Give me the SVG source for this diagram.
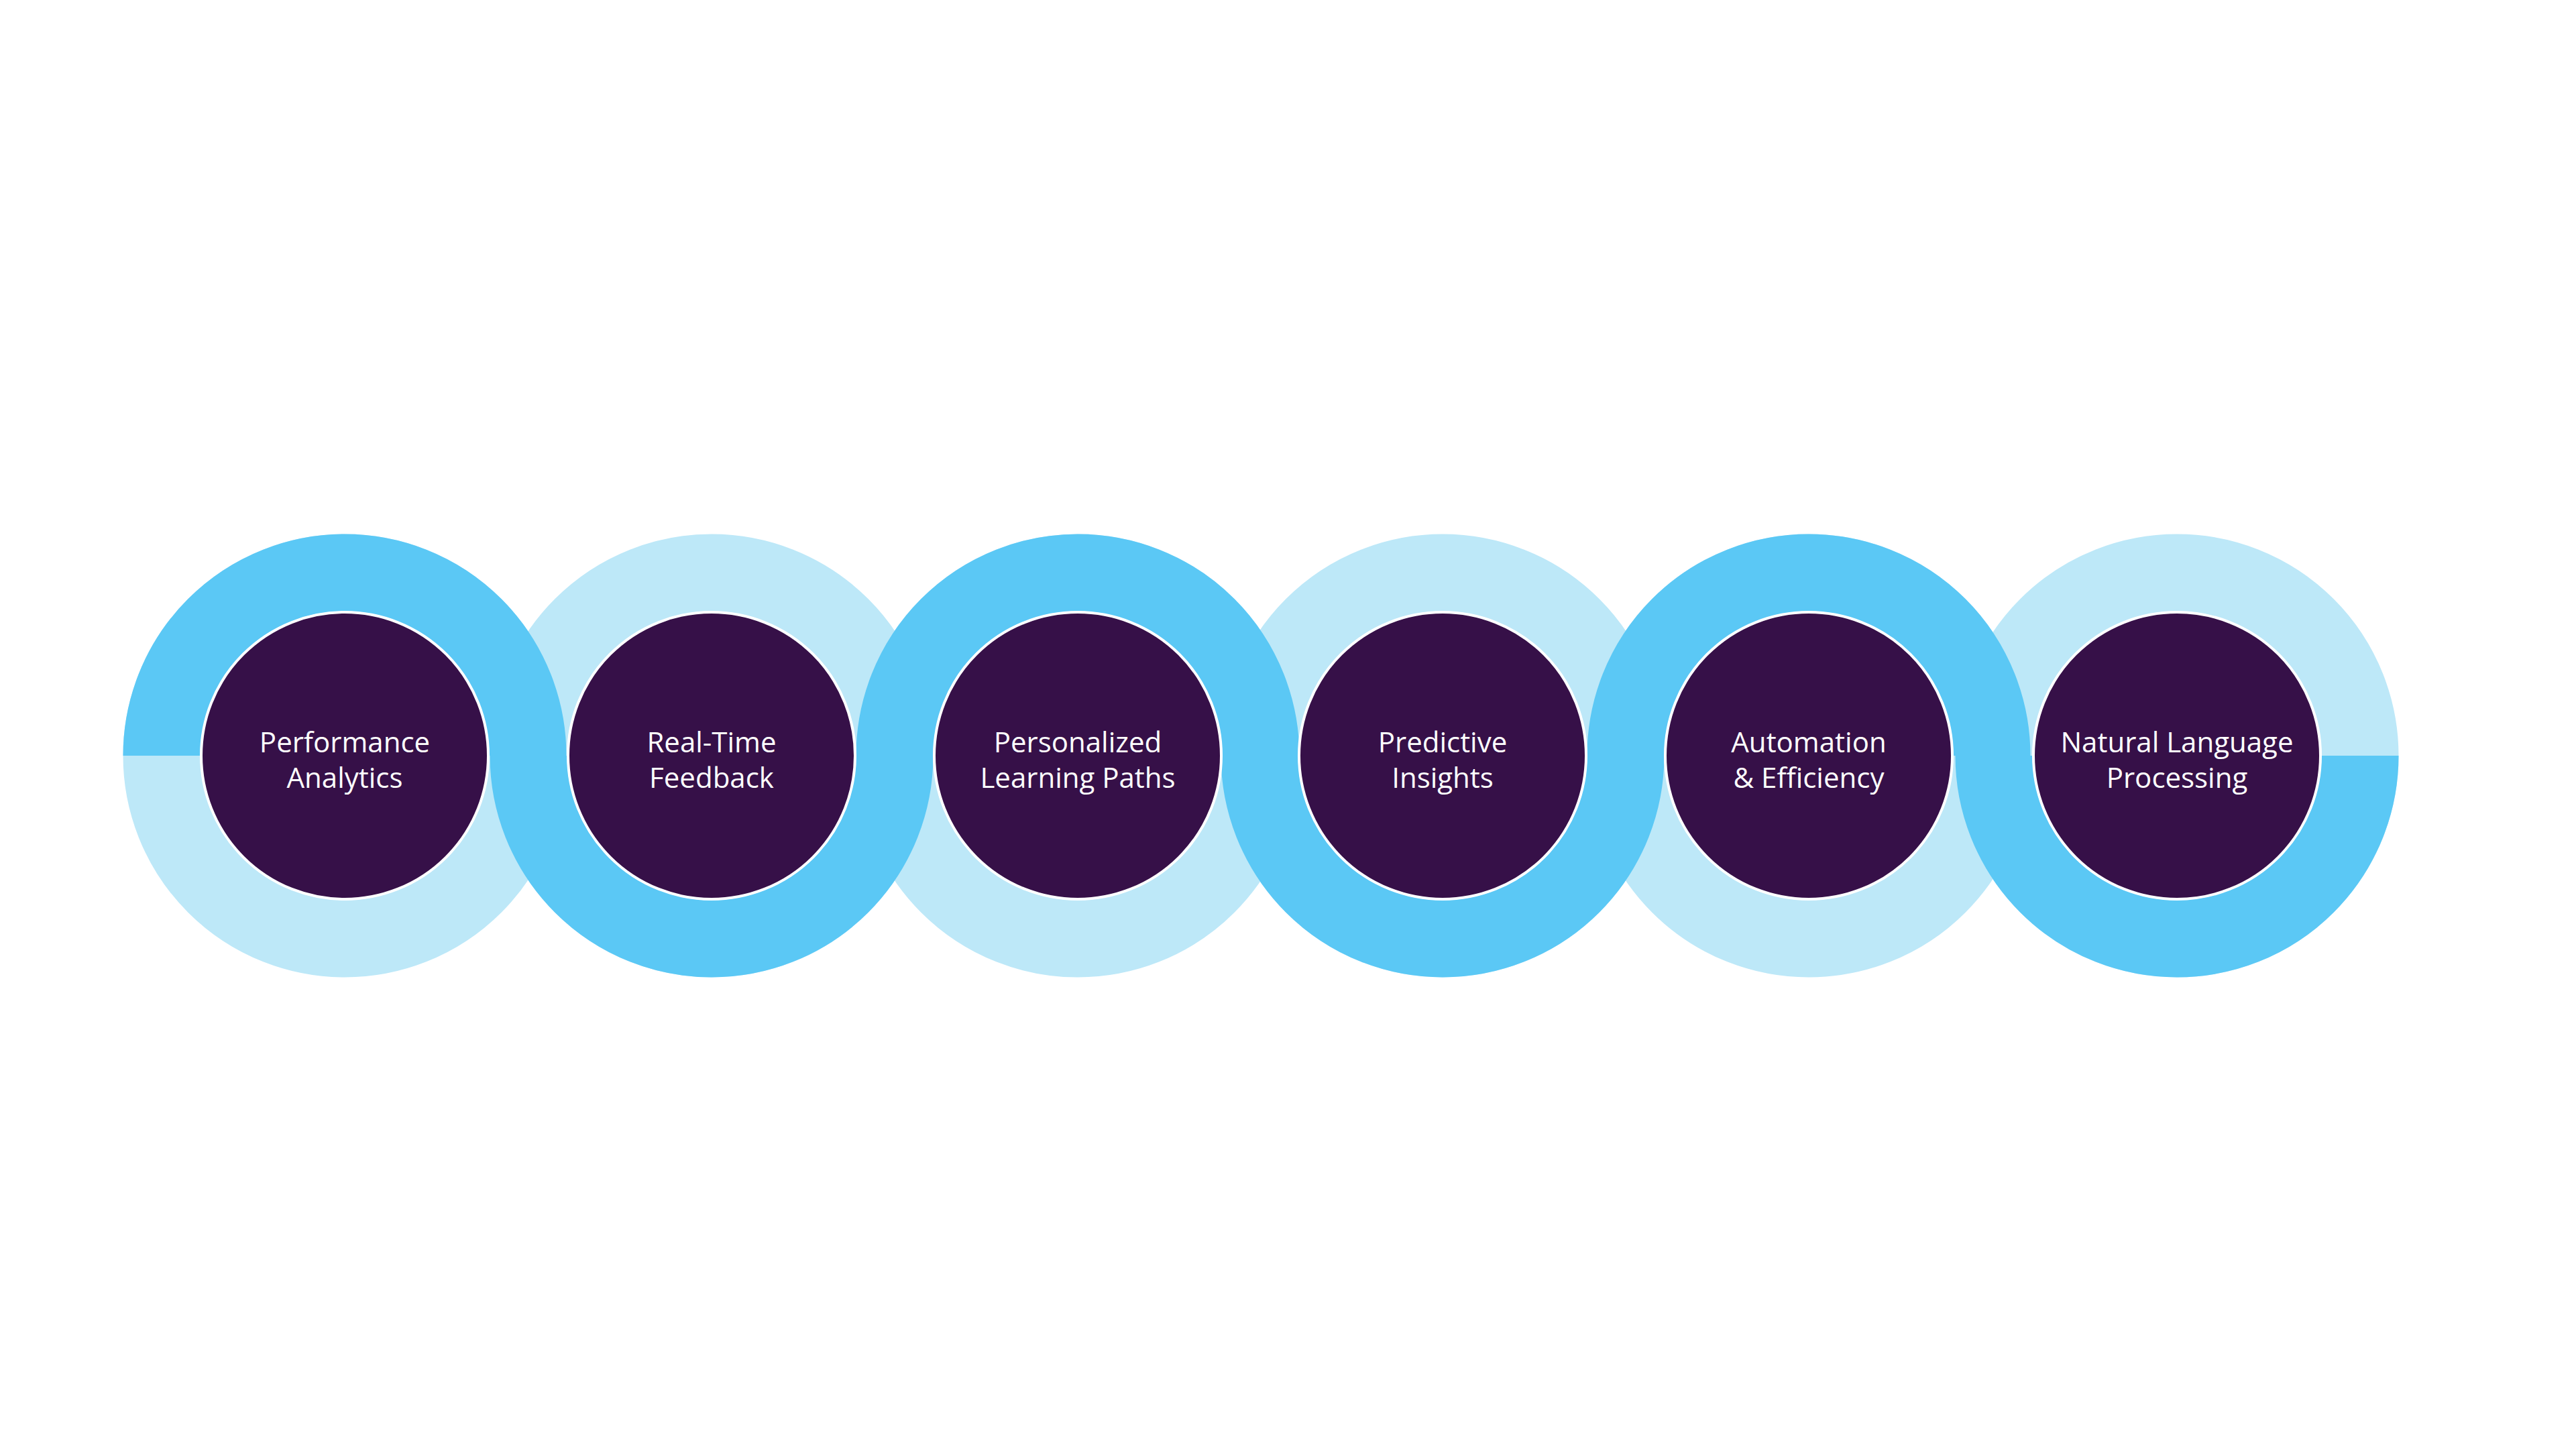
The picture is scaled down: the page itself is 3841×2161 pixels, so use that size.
<svg xmlns="http://www.w3.org/2000/svg" width="3841" height="2161" viewBox="0 0 3841 2161">
<style>
.light{fill:none;stroke:#BDE8F8;stroke-width:115}
.dark{fill:none;stroke:#5BC8F5;stroke-width:115}
.core{fill:#361048;stroke:#fff;stroke-width:4}
.t{font-family:"Open Sans","Liberation Sans",sans-serif;font-size:42px;fill:#fff;text-anchor:middle}
</style>
<rect width="3841" height="2161" fill="#fff"/>
<g id="rings-light">
<circle class="light" cx="514" cy="1127" r="273"/>
<circle class="light" cx="1061" cy="1127" r="273"/>
<circle class="light" cx="1607" cy="1127" r="273"/>
<circle class="light" cx="2151" cy="1127" r="273"/>
<circle class="light" cx="2697" cy="1127" r="273"/>
<circle class="light" cx="3246" cy="1127" r="273"/>
</g>
<g id="connectors">
<path class="dark" d="M241 1127 A273 273 0 0 1 787 1127"/>
<path class="dark" d="M788 1127 A273 273 0 0 0 1334 1127"/>
<path class="dark" d="M1334 1127 A273 273 0 0 1 1880 1127"/>
<path class="dark" d="M1878 1127 A273 273 0 0 0 2424 1127"/>
<path class="dark" d="M2424 1127 A273 273 0 0 1 2970 1127"/>
<path class="dark" d="M2973 1127 A273 273 0 0 0 3519 1127"/>
</g>
<g id="n1"><circle class="core" cx="514" cy="1127" r="214"/><text class="t" x="514" y="1122">Performance</text><text class="t" x="514" y="1175">Analytics</text></g>
<g id="n2"><circle class="core" cx="1061" cy="1127" r="214"/><text class="t" x="1061" y="1122">Real-Time</text><text class="t" x="1061" y="1175">Feedback</text></g>
<g id="n3"><circle class="core" cx="1607" cy="1127" r="214"/><text class="t" x="1607" y="1122">Personalized</text><text class="t" x="1607" y="1175">Learning Paths</text></g>
<g id="n4"><circle class="core" cx="2151" cy="1127" r="214"/><text class="t" x="2151" y="1122">Predictive</text><text class="t" x="2151" y="1175">Insights</text></g>
<g id="n5"><circle class="core" cx="2697" cy="1127" r="214"/><text class="t" x="2697" y="1122">Automation</text><text class="t" x="2697" y="1175">&amp; Efficiency</text></g>
<g id="n6"><circle class="core" cx="3246" cy="1127" r="214"/><text class="t" x="3246" y="1122">Natural Language</text><text class="t" x="3246" y="1175">Processing</text></g>
</svg>
